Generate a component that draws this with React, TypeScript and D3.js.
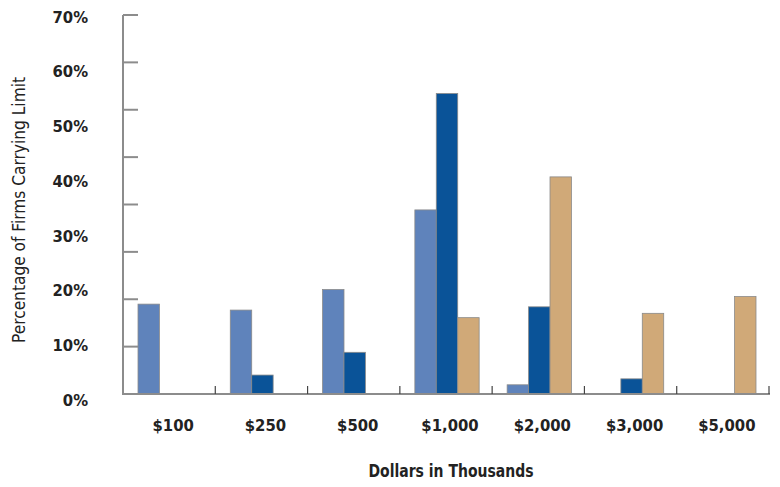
import React from "react";
import * as d3 from "d3";

const categories = ["$100", "$250", "$500", "$1,000", "$2,000", "$3,000", "$5,000"];
const seriesNames = ["A", "B", "C"];
const seriesA = [16.6, 15.5, 19.3, 34.0, 1.7, 0, 0];
const seriesB = [0, 3.5, 7.7, 55.5, 16.1, 2.8, 0];
const seriesC = [0, 0, 0, 14.1, 40.1, 14.9, 18.0];
const yTickLabels = [0, 10, 20, 30, 40, 50, 60, 70];
const colors = ["#5F83BB", "#0A5398", "#D0A978"];

const W = 780;
const H = 487;
const axisX = 123;
const baseY = 394;
const topY = 15;
const rightX = 769;
const FONT = "'Liberation Sans Narrow', 'Arial Narrow', 'DejaVu Sans Condensed', sans-serif";

export default function App() {
  const series = [seriesA, seriesB, seriesC];
  const x0 = d3.scaleBand<string>().domain(categories).range([axisX, rightX]).paddingInner(0).paddingOuter(0);
  const x1 = d3
    .scaleBand<string>()
    .domain(seriesNames)
    .range([15, x0.bandwidth() - 13])
    .padding(0);
  const y = d3.scaleLinear().domain([0, 70]).range([baseY, topY]);
  const yLabel = d3.scaleLinear().domain([0, 70]).range([400, 16.7]);
  const tickMarks = d3.range(1, 9).map((i) => (i * 70) / 8);
  const catBoundaries = categories.slice(1).map((c) => x0(c) as number).concat([rightX]);

  return (
    <svg width={W} height={H} style={{ position: "absolute", left: 0, top: 0, background: "#fff" }}>
      {/* bars */}
      {categories.map((c, ci) => (
        <g key={c} transform={`translate(${x0(c)},0)`}>
          {series.map((s, si) =>
            s[ci] > 0 ? (
              <rect
                key={si}
                x={x1(seriesNames[si])}
                y={y(s[ci])}
                width={x1.bandwidth()}
                height={baseY - y(s[ci])}
                fill={colors[si]}
                stroke="#8a8a8a"
                strokeWidth={0.8}
              />
            ) : null
          )}
        </g>
      ))}
      {/* y axis */}
      <line x1={axisX} x2={axisX} y1={topY} y2={baseY} stroke="#8c8c8c" strokeWidth={2} />
      {tickMarks.map((t, i) => (
        <line key={i} x1={axisX} x2={axisX + 15} y1={y(t)} y2={y(t)} stroke="#8c8c8c" strokeWidth={2} />
      ))}
      {/* x axis */}
      <line x1={axisX - 1} x2={rightX + 1} y1={baseY} y2={baseY} stroke="#8c8c8c" strokeWidth={2} />
      {catBoundaries.map((bx, i) => (
        <line key={i} x1={bx} x2={bx} y1={baseY} y2={baseY - 8} stroke="#444" strokeWidth={1.2} />
      ))}
      {/* y tick labels */}
      {yTickLabels.map((v) => (
        <text
          key={v}
          x={88}
          y={yLabel(v)}
          dy="0.36em"
          textAnchor="end"
          fontFamily={FONT}
          fontWeight="bold"
          fontSize={16.5}
          fill="#222"
        >
          {v}%
        </text>
      ))}
      {/* x tick labels */}
      {categories.map((c) => (
        <text
          key={c}
          x={(x0(c) as number) + x0.bandwidth() / 2 + 4}
          y={425}
          dy="0.36em"
          textAnchor="middle"
          fontFamily={FONT}
          fontWeight="bold"
          fontSize={16.5}
          fill="#222"
        >
          {c}
        </text>
      ))}
      {/* axis titles */}
      <text
        x={451}
        y={471}
        dy="0.36em"
        textAnchor="middle"
        fontFamily={FONT}
        fontWeight="bold"
        fontSize={18}
        textLength={165}
        lengthAdjust="spacingAndGlyphs"
        fill="#222"
      >
        Dollars in Thousands
      </text>
      <text
        transform={`translate(19,210) rotate(-90)`}
        textAnchor="middle"
        dy="0.36em"
        fontFamily={FONT}
        fontSize={17.5}
        textLength={266}
        lengthAdjust="spacingAndGlyphs"
        fill="#222"
      >
        Percentage of Firms Carrying Limit
      </text>
    </svg>
  );
}
